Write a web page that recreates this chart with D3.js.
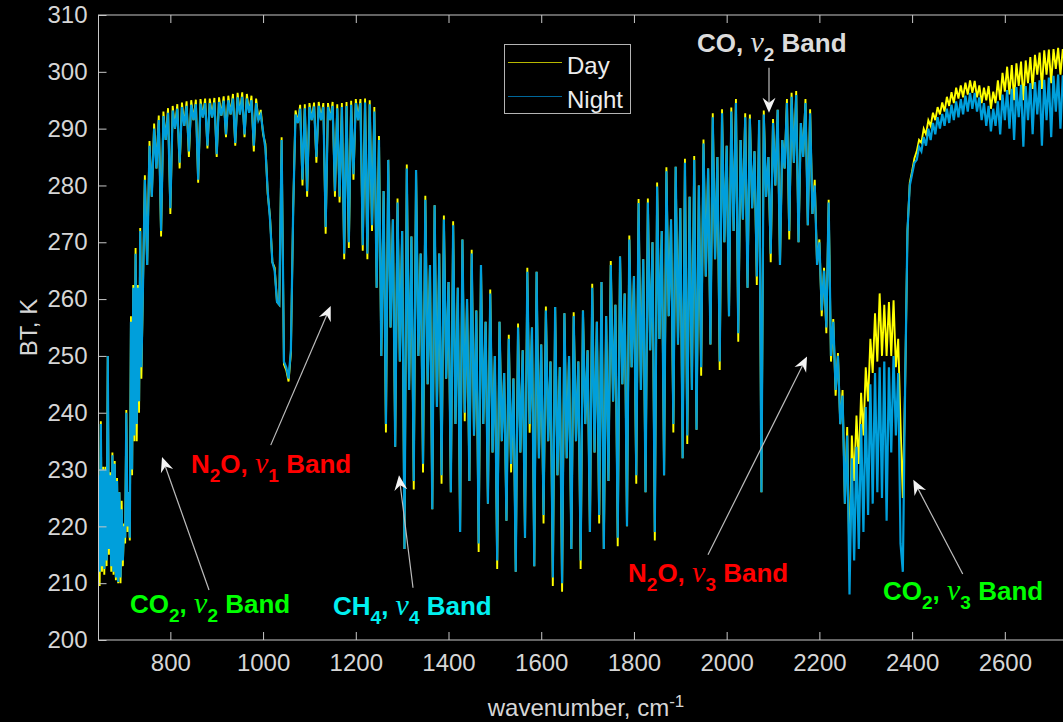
<!DOCTYPE html>
<html>
<head>
<meta charset="utf-8">
<script src="https://cdn.jsdelivr.net/npm/d3@7"></script>
<style>
html, body { margin: 0; padding: 0; background: #000; overflow: hidden; }
svg { display: block; font-family: "Liberation Sans", Arial, sans-serif; }
</style>
</head>
<body>
<svg width="1063" height="722"></svg>
<script>
// spectra (2.5 cm-1 steps in the CO2 v2 band, 5 cm-1 elsewhere)
var wavenumber = [
  645, 647.5, 650, 652.5, 655, 657.5, 660, 662.5, 665, 667.5, 670, 672.5, 675, 677.5, 680, 682.5, 685, 687.5, 690, 692.5,
  695, 697.5, 700, 702.5, 705, 707.5, 710, 712.5, 715, 717.5, 720, 722.5, 725, 727.5, 730, 732.5, 735, 737.5, 740,
  745, 750, 755, 760, 765, 770, 775, 780, 785, 790, 795, 800, 805, 810, 815, 820, 825, 830, 835, 840,
  845, 850, 855, 860, 865, 870, 875, 880, 885, 890, 895, 900, 905, 910, 915, 920, 925, 930, 935, 940,
  945, 950, 955, 960, 965, 970, 975, 980, 985, 990, 995, 1000, 1005, 1010, 1015, 1020, 1025, 1030, 1035, 1040,
  1045, 1050, 1055, 1060, 1065, 1070, 1075, 1080, 1085, 1090, 1095, 1100, 1105, 1110, 1115, 1120, 1125, 1130, 1135, 1140,
  1145, 1150, 1155, 1160, 1165, 1170, 1175, 1180, 1185, 1190, 1195, 1200, 1205, 1210, 1215, 1220, 1225, 1230, 1235, 1240,
  1245, 1250, 1255, 1260, 1265, 1270, 1275, 1280, 1285, 1290, 1295, 1300, 1305, 1310, 1315, 1320, 1325, 1330, 1335, 1340,
  1345, 1350, 1355, 1360, 1365, 1370, 1375, 1380, 1385, 1390, 1395, 1400, 1405, 1410, 1415, 1420, 1425, 1430, 1435, 1440,
  1445, 1450, 1455, 1460, 1465, 1470, 1475, 1480, 1485, 1490, 1495, 1500, 1505, 1510, 1515, 1520, 1525, 1530, 1535, 1540,
  1545, 1550, 1555, 1560, 1565, 1570, 1575, 1580, 1585, 1590, 1595, 1600, 1605, 1610, 1615, 1620, 1625, 1630, 1635, 1640,
  1645, 1650, 1655, 1660, 1665, 1670, 1675, 1680, 1685, 1690, 1695, 1700, 1705, 1710, 1715, 1720, 1725, 1730, 1735, 1740,
  1745, 1750, 1755, 1760, 1765, 1770, 1775, 1780, 1785, 1790, 1795, 1800, 1805, 1810, 1815, 1820, 1825, 1830, 1835, 1840,
  1845, 1850, 1855, 1860, 1865, 1870, 1875, 1880, 1885, 1890, 1895, 1900, 1905, 1910, 1915, 1920, 1925, 1930, 1935, 1940,
  1945, 1950, 1955, 1960, 1965, 1970, 1975, 1980, 1985, 1990, 1995, 2000, 2005, 2010, 2015, 2020, 2025, 2030, 2035, 2040,
  2045, 2050, 2055, 2060, 2065, 2070, 2075, 2080, 2085, 2090, 2095, 2100, 2105, 2110, 2115, 2120, 2125, 2130, 2135, 2140,
  2145, 2150, 2155, 2160, 2165, 2170, 2175, 2180, 2185, 2190, 2195, 2200, 2205, 2210, 2215, 2220, 2225, 2230, 2235, 2240,
  2245, 2250, 2255, 2260, 2265, 2270, 2275, 2280, 2285, 2290, 2295, 2300, 2305, 2310, 2315, 2320, 2325, 2330, 2335, 2340,
  2345, 2350, 2355, 2360, 2365, 2370, 2375, 2380, 2385, 2390, 2395, 2400, 2405, 2410, 2415, 2420, 2425, 2430, 2435, 2440,
  2445, 2450, 2455, 2460, 2465, 2470, 2475, 2480, 2485, 2490, 2495, 2500, 2505, 2510, 2515, 2520, 2525, 2530, 2535, 2540,
  2545, 2550, 2555, 2560, 2565, 2570, 2575, 2580, 2585, 2590, 2595, 2600, 2605, 2610, 2615, 2620, 2625, 2630, 2635, 2640,
  2645, 2650, 2655, 2660, 2665, 2670, 2675, 2680, 2685, 2690, 2695, 2700, 2705, 2710, 2715, 2720, 2725, 2730, 2735, 2740,
  2745, 2750, 2755, 2760
];

var btDay = [
  228, 209.5, 238.5, 212, 230.5, 211.5, 230.5, 213, 250, 215, 229.5, 212, 233, 211.5, 231.5, 210.5, 228.5, 210, 226, 210,
  224.5, 213, 220.5, 217, 240.5, 219, 226, 217.5, 257, 229, 262.5, 235, 269, 235, 262.5, 240, 272.5, 246, 258,
  281.8, 266, 287.8, 278, 290.9, 283, 292.3, 271, 293.0, 288, 293.6, 275, 294.0, 290, 294.3, 283, 294.6, 290.5, 294.8, 285,
  295.0, 291.5, 295.1, 280.5, 295.2, 292, 295.3, 286.5, 295.3, 292, 295.4, 285, 295.5, 292.3, 295.7, 288.5, 295.8, 292.5, 296.1, 287,
  296.3, 292.5, 296.4, 288.5, 296.1, 292.8, 295.8, 286, 295.3, 291.5, 293.3, 289, 287.3, 278.5, 274.5, 266.5, 265.5, 259.5, 259, 288.5,
  248.5, 247.5, 245.5, 250.5, 276, 293.2, 291, 294.2, 280, 294.3, 278, 294.5, 291.5, 294.6, 284, 294.7, 291.5, 294.5, 271.5, 294.5,
  291.5, 294.7, 278, 294.3, 277, 294.5, 267, 294.7, 269, 294.9, 281, 295.2, 291.5, 295.2, 268.5, 295.3, 267, 295, 272, 293.8,
  262, 288.7, 250, 279, 236.5, 284.5, 255, 274, 234, 277.7, 249, 272, 216, 283.7, 244, 271, 226.5, 282.7, 250, 268,
  229.5, 278.2, 245, 266, 223, 276.5, 241, 268, 227.5, 274.7, 246, 263, 226, 273.7, 238, 262, 219, 270.5, 238.5, 260,
  228, 268.7, 236, 258, 215.5, 266, 238, 256, 224, 261.7, 233, 250, 212.5, 256, 235, 247, 221, 253.7, 229.5, 246,
  212, 255.7, 233, 251, 218, 265.5, 236.5, 255, 213, 264.8, 232, 252, 220.5, 258.7, 235, 249, 209.5, 258.6, 229, 248,
  208.5, 257.5, 232, 250, 216, 257.7, 235, 249, 212.5, 258, 238, 251, 219, 262.7, 233, 256, 220.5, 263, 216, 257,
  228, 266.7, 242, 259, 216.5, 267.5, 245, 261, 220, 271.2, 248, 264, 227.5, 277.6, 244, 267, 226, 277.7, 251, 270,
  217.5, 280.5, 253, 272, 229, 283.2, 257, 274, 236.5, 283.3, 252, 276, 232, 284.7, 234.5, 278, 244, 285.2, 237, 280,
  246.5, 288.1, 264, 283, 252, 292.7, 267, 285, 247.5, 293.4, 270, 287, 257, 293.7, 272, 295.2, 252.5, 288, 274, 292.7,
  262, 292.5, 276, 286, 262.5, 291.5, 226, 293.2, 278, 285, 266.5, 291.7, 280, 293.3, 266, 288, 283, 295.2, 270.5, 296.3,
  284, 296.6, 270, 291, 285, 295.2, 273, 293.4, 275, 281, 266, 270.5, 257, 265.5, 254, 277.5, 249, 256.5, 243, 250.5,
  238, 244, 224, 237.5, 212, 236, 228, 239.5, 231, 243.5, 236, 248, 242, 253, 247, 257.5, 249, 261, 250, 259,
  250, 259.5, 250, 259.8, 248, 253, 238, 225, 245, 272, 280.5, 282.5, 284.8, 286, 288, 287.5, 290, 289, 291.5, 290.5,
  292.8, 291.5, 293.8, 292.5, 294.6, 293, 295.6, 294, 296.4, 294.5, 297.2, 295.3, 297.6, 295.5, 298.1, 296, 298.5, 296.3, 298.4, 295.5,
  297.6, 294.5, 297.2, 295, 297.5, 293.5, 296.5, 294.5, 298.5, 295, 299.8, 296.5, 300.9, 296, 301.2, 295, 301.5, 297.5, 301.8, 295,
  302, 298, 302.6, 297, 303, 299.5, 303.4, 297, 303.8, 299.5, 303.9, 298, 304, 300.5, 304.2, 299.5, 304, 301, 304.3, 300.5,
  304.5, 301.5, 304.6, 302
];

var btNight = [
  229, 212, 238, 213, 230, 212.5, 230, 214, 250, 216, 229, 213, 232.5, 212, 231, 211, 228, 210.2, 226, 211,
  223, 214, 220, 218, 240, 220, 226, 218, 256, 230, 262, 236, 268, 238, 262, 242, 272, 248, 258,
  281, 266, 287, 278, 290, 283, 291.5, 272, 292.2, 288, 292.8, 276, 293.2, 290, 293.5, 284, 293.8, 290.5, 294, 286,
  294.2, 291.5, 294.3, 281, 294.4, 292, 294.5, 287, 294.5, 292, 294.6, 285.5, 294.7, 292.3, 294.9, 289, 295, 292.5, 295.3, 287.5,
  295.5, 292.5, 295.6, 289, 295.3, 292.8, 295, 287, 294.5, 291.5, 292.5, 289.5, 286.5, 279, 274, 266.5, 265, 259.5, 259, 288,
  249, 248, 246, 251, 276, 292.5, 291, 293.5, 281, 293.6, 279, 293.8, 291.5, 293.9, 285, 294, 291.5, 293.8, 272.7, 293.8,
  291.5, 294, 279, 293.6, 278, 293.8, 268, 294, 270, 294.2, 282, 294.5, 291.5, 294.5, 269.5, 294.6, 268, 294.3, 273, 293,
  262, 288, 250, 279, 238, 284.5, 255, 274, 234, 277, 249, 272, 216, 283, 244, 271, 228, 282.7, 250, 268,
  231, 277.5, 245, 266, 223, 276.5, 241, 268, 229, 274, 246, 263, 226, 273, 238, 262, 219, 270.5, 240, 260,
  228, 268, 236, 258, 217, 266, 238, 256, 224, 261, 233, 250, 214, 256, 235, 247, 221, 253, 231, 246,
  212, 255, 233, 251, 218, 264.8, 238, 255, 213, 264.8, 232, 252, 222, 258, 235, 249, 211, 258.6, 229, 248,
  210, 257.5, 232, 250, 216, 257, 235, 249, 214, 258, 238, 251, 219, 262, 233, 256, 222, 263, 216, 257,
  228, 266, 242, 259, 218, 267.5, 245, 261, 220, 270.5, 248, 264, 229, 276.9, 244, 267, 226, 277, 251, 270,
  219, 279.8, 253, 272, 229, 282.5, 257, 274, 238, 283.3, 252, 276, 232, 284, 236, 278, 244, 284.5, 237, 280,
  248, 287.4, 264, 283, 252, 292, 267, 285, 249, 292.7, 270, 287, 257, 293, 272, 294.5, 254, 288, 274, 292,
  262, 291.8, 276, 286, 264, 291.5, 226, 292.5, 278, 285, 268, 291, 280, 293.3, 266, 288, 283, 294.5, 272, 295.6,
  284, 295.9, 270, 291, 285, 294.5, 273, 292.7, 275, 280, 266, 270, 258, 265, 255, 277, 250, 256, 244, 250,
  238, 243, 224, 236, 208, 232, 214, 234, 216, 238, 219, 241, 222, 245, 224, 247, 226, 248, 225, 249,
  221, 248, 233, 250, 236, 247, 217, 212, 245, 272, 280, 282, 284, 284.5, 286.8, 286, 288.5, 287, 290, 288,
  291, 289, 292, 290, 292.6, 290.5, 293.5, 291, 294.2, 291.5, 294.8, 292, 295.2, 292.5, 295.8, 293, 296.3, 293.5, 296.3, 293,
  295.5, 291.5, 294.5, 290.5, 294, 289.5, 293.5, 290.5, 294.8, 289, 296, 291.5, 296.8, 290, 297, 288, 297.3, 292, 297.7, 286.8,
  297.5, 291.5, 298, 289, 298.2, 292.5, 298.5, 287, 298.6, 291.5, 299, 288.5, 299.3, 293, 299.5, 290, 299.4, 294.5, 299.6, 292,
  299.8, 294.5, 300, 295.5
];

var xTicks = [800, 1000, 1200, 1400, 1600, 1800, 2000, 2200, 2400, 2600];
var yTicks = [200, 210, 220, 230, 240, 250, 260, 270, 280, 290, 300, 310];
var seriesNames = ['Day', 'Night'];

// band labels: text pieces (m = main, s = subscript, g = greek) and anchors in data units
var bandLabels = [
  { parts: [['CO', 'm'], ['2', 's'], [', ', 'm'], ['\u03bd', 'g'], ['2', 's'], [' Band', 'm']], color: '#00ff00', at: [713, 204.8], tail: [883.4, 208.8], tip: [782, 232.2] },
  { parts: [['N', 'm'], ['2', 's'], ['O, ', 'm'], ['\u03bd', 'g'], ['1', 's'], [' Band', 'm']], color: '#ff0000', at: [844.5, 229.4], tail: [1016.5, 234.3], tip: [1145.9, 258.8] },
  { parts: [['CH', 'm'], ['4', 's'], [', ', 'm'], ['\u03bd', 'g'], ['4', 's'], [' Band', 'm']], color: '#00f0f0', at: [1150.8, 204.4], tail: [1323.4, 209.2], tip: [1293.2, 229.0] },
  { parts: [['N', 'm'], ['2', 's'], ['O, ', 'm'], ['\u03bd', 'g'], ['3', 's'], [' Band', 'm']], color: '#ff0000', at: [1787.2, 210.2], tail: [1959.7, 215.0], tip: [2173.3, 249.9] },
  { parts: [['CO', 'm'], ['2', 's'], [', ', 'm'], ['\u03bd', 'g'], ['3', 's'], [' Band', 'm']], color: '#00ff00', at: [2337.2, 207.0], tail: [2509.2, 211.6], tip: [2402.6, 228.2] },
  { parts: [['CO, ', 'm'], ['\u03bd', 'g'], ['2', 's'], [' Band', 'm']], color: '#dcdcdc', at: [1936, 303.5], tail: [2091.3, 300.7], tip: [2091.3, 292.8] }
];

function drawSpectrum() {
  var svg = d3.select('svg');
  svg.selectAll('*').remove();

  var left = 98.5, right = 1079, top = 15, bottom = 640;
  var x = d3.scaleLinear().domain([645, 2760]).range([left, right]);
  var y = d3.scaleLinear().domain([200, 310]).range([bottom, top]);

  svg.append('rect')
    .attr('width', 1063)
    .attr('height', 722)
    .attr('fill', '#000');

  svg.append('clipPath')
    .attr('id', 'plotClip')
    .append('rect')
    .attr('x', left)
    .attr('y', top)
    .attr('width', right - left)
    .attr('height', bottom - top);

  var line = d3.line()
    .x(function (d) { return x(d[0]); })
    .y(function (d) { return y(d[1]); });

  var dayPts = wavenumber.map(function (w, i) { return [w, btDay[i]]; });
  var nightPts = wavenumber.map(function (w, i) { return [w, btNight[i]]; });

  var g = svg.append('g').attr('clip-path', 'url(#plotClip)');
  g.append('path')
    .attr('d', line(dayPts))
    .attr('fill', 'none')
    .attr('stroke', '#ffff00')
    .attr('stroke-width', 1.9);
  g.append('path')
    .attr('d', line(nightPts))
    .attr('fill', 'none')
    .attr('stroke', '#009fdb')
    .attr('stroke-width', 2.2);

  // axes box, ticks pointing inwards
  var axisColor = '#c8c8c8';
  var textColor = '#d6d6d6';
  svg.append('rect')
    .attr('x', left)
    .attr('y', top)
    .attr('width', right - left)
    .attr('height', bottom - top)
    .attr('fill', 'none')
    .attr('stroke', axisColor)
    .attr('stroke-width', 1);

  var fmt = d3.format('d');
  var xAxisB = d3.axisBottom(x).tickValues(xTicks).tickFormat(fmt).tickSizeInner(-8).tickSizeOuter(0).tickPadding(14);
  var xAxisT = d3.axisTop(x).tickValues(xTicks).tickFormat('').tickSizeInner(-8).tickSizeOuter(0);
  var yAxisL = d3.axisLeft(y).tickValues(yTicks).tickFormat(fmt).tickSizeInner(-8).tickSizeOuter(0).tickPadding(11);

  var gb = svg.append('g').attr('transform', 'translate(0,' + bottom + ')').call(xAxisB);
  var gt = svg.append('g').attr('transform', 'translate(0,' + top + ')').call(xAxisT);
  var gl = svg.append('g').attr('transform', 'translate(' + left + ',0)').call(yAxisL);
  [gb, gt, gl].forEach(function (a) {
    a.select('.domain').remove();
    a.selectAll('line').attr('stroke', axisColor);
    a.selectAll('text')
      .attr('fill', textColor)
      .style('font-size', '24px')
      .style('font-family', '"Liberation Sans", Arial, sans-serif');
  });

  // axis labels
  svg.append('text')
    .attr('transform', 'translate(37,327.5) rotate(-90)')
    .attr('text-anchor', 'middle')
    .attr('fill', textColor)
    .style('font-size', '24px')
    .text('BT, K');
  var xl = svg.append('text')
    .attr('x', 586)
    .attr('y', 716)
    .attr('text-anchor', 'middle')
    .attr('fill', textColor)
    .style('font-size', '24px');
  xl.append('tspan').text('wavenumber, cm');
  xl.append('tspan').attr('dy', -9).style('font-size', '17px').text('-1');

  // legend
  var leg = svg.append('g');
  leg.append('rect')
    .attr('x', 504.5)
    .attr('y', 44.5)
    .attr('width', 126)
    .attr('height', 69)
    .attr('fill', '#000')
    .attr('stroke', '#b4b4b4')
    .attr('stroke-width', 1);
  var legColors = ['#b8b800', '#00679a'];
  seriesNames.forEach(function (name, i) {
    var ly = i === 0 ? 62.5 : 96.5;
    leg.append('line')
      .attr('x1', 508)
      .attr('x2', 562)
      .attr('y1', ly)
      .attr('y2', ly)
      .attr('stroke', legColors[i])
      .attr('stroke-width', 1.2);
    leg.append('text')
      .attr('x', 567)
      .attr('y', ly + 11)
      .attr('fill', '#ececec')
      .style('font-size', '24px')
      .text(name);
  });

  // band annotations with arrows
  var ann = svg.append('g');
  bandLabels.forEach(function (b) {
    var t = ann.append('text')
      .attr('x', x(b.at[0]))
      .attr('y', y(b.at[1]))
      .attr('fill', b.color)
      .style('font-size', '26px')
      .style('font-weight', 'bold');
    var shift = 0;
    b.parts.forEach(function (p) {
      var s = t.append('tspan').text(p[0]);
      var want = p[1] === 's' ? 9 : 0;
      if (want !== shift) {
        s.attr('dy', want - shift);
        shift = want;
      }
      if (p[1] === 's') {
        s.style('font-size', '19px');
      }
      if (p[1] === 'g') {
        s.style('font-family', '"Liberation Serif", "DejaVu Serif", serif')
          .style('font-style', 'italic')
          .style('font-weight', 'normal')
          .style('font-size', '30px');
      }
    });

    var x0 = x(b.tail[0]), y0 = y(b.tail[1]);
    var x1 = x(b.tip[0]), y1 = y(b.tip[1]);
    var len = Math.sqrt((x1 - x0) * (x1 - x0) + (y1 - y0) * (y1 - y0));
    var ux = (x1 - x0) / len, uy = (y1 - y0) / len;
    var nx = -uy, ny = ux;
    var hl = 15, hw = 6.5, notch = 10;
    ann.append('line')
      .attr('x1', x0)
      .attr('y1', y0)
      .attr('x2', x1 - ux * notch)
      .attr('y2', y1 - uy * notch)
      .attr('stroke', '#bdbdbd')
      .attr('stroke-width', 1.2);
    var head = [
      [x1, y1],
      [x1 - ux * hl + nx * hw, y1 - uy * hl + ny * hw],
      [x1 - ux * notch, y1 - uy * notch],
      [x1 - ux * hl - nx * hw, y1 - uy * hl - ny * hw]
    ];
    ann.append('path')
      .attr('d', 'M' + head.map(function (p) { return p[0] + ',' + p[1]; }).join('L') + 'Z')
      .attr('fill', '#f4f4f4');
  });
}

drawSpectrum();
</script>
</body>
</html>
